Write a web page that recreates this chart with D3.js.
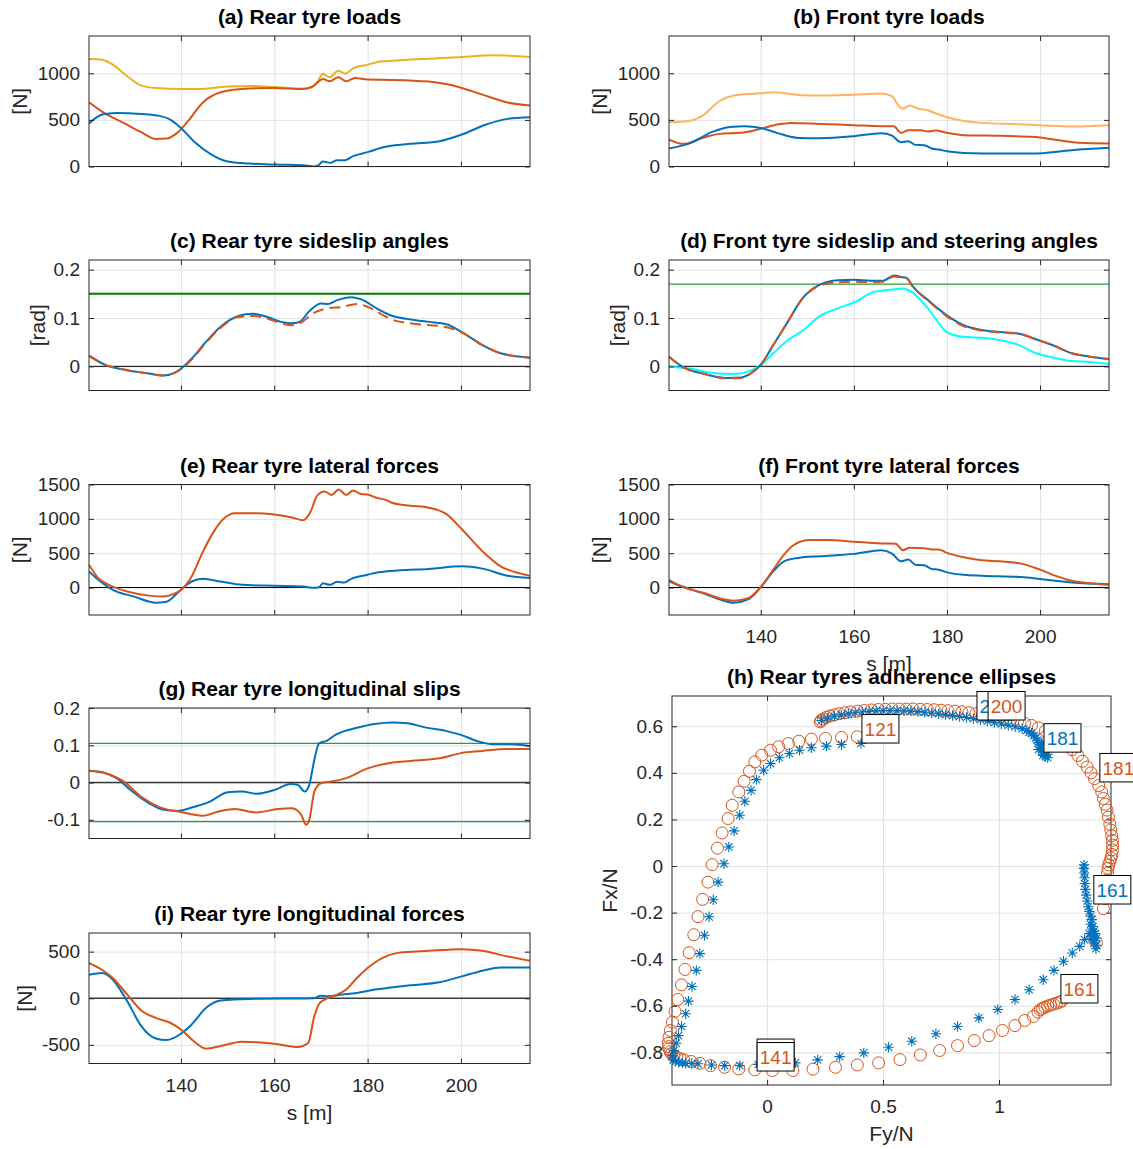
<!DOCTYPE html>
<html>
<head>
<meta charset="utf-8">
<script src="https://cdn.jsdelivr.net/npm/d3@7"></script>
<style>
  body { margin: 0; background: #fff; }
  svg { display: block; font-family: "Liberation Sans", Arial, Helvetica, sans-serif; }
</style>
</head>
<body>
<script>
// ---------- data: [s (m), value] ----------
const rearLoadLeft = [[120.3,461],[123.1,557],[126.2,575],[131.5,564],[135.4,543],[137.7,504],[140,414],[143.1,254],[146.2,139],[150,54],[154.6,32],[160,21],[166.2,14],[168.5,0],[169.5,14],[170.4,54],[171.9,39],[173.5,68],[175.2,68],[176.9,111],[180,154],[183.8,211],[189.2,243],[195.4,271],[200.2,343],[205.4,450],[210,511],[214.8,529]];
const rearLoadRight = [[120.3,689],[123.1,589],[127.7,468],[131.5,368],[134.6,296],[136.9,300],[139.2,361],[141.5,486],[144.6,682],[148.5,796],[153.1,832],[160,843],[166.2,832],[168,853],[169.2,900],[170.4,939],[171.9,914],[173.7,957],[175.4,914],[177.3,950],[180,932],[185.4,929],[193.1,911],[200.2,843],[204.6,771],[210,686],[214.8,654]];
const rearLoadSum = [[120.3,1153],[123.1,1146],[125.4,1093],[128.5,968],[131.5,868],[135.4,839],[140,832],[143.8,832],[150,857],[154.6,864],[160,853],[166.2,836],[168,850],[169.2,900],[170.4,996],[171.9,957],[173.7,1028],[175.2,996],[176.9,1053],[180,1093],[183.1,1128],[185.4,1135],[188.5,1146],[193.1,1157],[200.2,1175],[206.9,1193],[214.8,1175]];

const frontLoadLeft = [[120.3,193],[125,254],[129.6,371],[133.4,425],[136.5,432],[140,414],[143.5,361],[148.1,307],[152.7,304],[160,325],[165.9,357],[168.2,332],[170.1,261],[171.7,271],[173.2,232],[175.1,229],[176.7,193],[178.2,182],[180,164],[183.6,146],[191.3,139],[198.3,139],[206.8,175],[214.8,200]];
const frontLoadRight = [[120.3,289],[123.4,243],[128,314],[131.1,350],[135.8,361],[140,404],[143.5,450],[146.6,468],[152.7,457],[160,443],[165.9,432],[168.6,432],[170.1,361],[171.7,389],[174.4,389],[175.9,375],[177.5,386],[180,361],[183.6,336],[191.3,329],[198.3,318],[202.9,289],[208.3,254],[214.8,246]];
const frontLoadSum = [[120.3,475],[124.2,486],[127.3,539],[131.1,700],[134.2,761],[140,786],[142.7,796],[148.9,764],[152.7,761],[160,771],[165.9,782],[168.2,754],[169.7,646],[170.5,621],[172,654],[174,618],[175.9,604],[177.5,571],[180,529],[183.6,489],[187.5,468],[195.2,454],[199.9,443],[206.8,429],[214.8,443]];

const rearSlipLeft = [[120.3,0.022],[123.8,0.003],[128.5,-0.008],[133.1,-0.015],[136.2,-0.019],[138.5,-0.014],[140,-0.005],[142.3,0.016],[145.4,0.051],[148.5,0.082],[152.3,0.104],[155.4,0.109],[158.5,0.102],[161.5,0.092],[163.8,0.089],[165.4,0.092],[167.7,0.116],[170,0.130],[171.5,0.129],[173.5,0.137],[176.5,0.143],[178.5,0.139],[182.3,0.118],[185.4,0.104],[189.2,0.097],[193.1,0.092],[196.9,0.087],[200.2,0.071],[204.6,0.044],[208.5,0.027],[214.8,0.018]];
const rearSlipRight = [[120.3,0.022],[123.8,0.003],[128.5,-0.008],[133.1,-0.015],[136.2,-0.019],[138.5,-0.014],[140,-0.006],[142.3,0.014],[145.4,0.049],[148.5,0.080],[152.3,0.102],[155.4,0.104],[158.5,0.099],[161.5,0.089],[163.8,0.085],[166,0.092],[168.2,0.109],[171.5,0.120],[174.6,0.123],[177.7,0.129],[180,0.123],[183.1,0.107],[185.4,0.096],[189.2,0.089],[196.9,0.081],[200.2,0.070],[204.6,0.044],[208.5,0.027],[214.8,0.018]];
const rearSlipLimit = 0.15;

const frontSlipLeft = [[120.3,0.020],[123.4,-0.002],[128,-0.016],[132.7,-0.024],[135.8,-0.023],[138.1,-0.013],[140,0.003],[142.7,0.044],[145.8,0.092],[148.9,0.140],[152.7,0.169],[156.6,0.178],[160,0.179],[163.6,0.177],[166.3,0.177],[168.6,0.188],[170.1,0.185],[171.3,0.183],[172.8,0.164],[175.9,0.137],[179.9,0.106],[183.6,0.085],[187.5,0.075],[191.4,0.071],[195.2,0.068],[199.1,0.056],[202.9,0.043],[206.8,0.027],[210.7,0.020],[214.8,0.015]];
const frontSlipRight = [[120.3,0.020],[123.4,-0.002],[128,-0.016],[132.7,-0.025],[135.8,-0.024],[138.1,-0.013],[140,0.003],[142.7,0.044],[145.8,0.092],[148.9,0.139],[152.7,0.167],[156.6,0.174],[160,0.175],[163.6,0.174],[166.3,0.175],[168.6,0.186],[170.1,0.184],[171.3,0.182],[172.8,0.163],[175.9,0.136],[179.9,0.104],[183.6,0.083],[187.5,0.074],[191.4,0.070],[195.2,0.068],[199.1,0.056],[202.9,0.043],[206.8,0.027],[210.7,0.020],[214.8,0.015]];
const frontSteer = [[120.3,-0.001],[125,-0.005],[129.6,-0.014],[134.2,-0.016],[137.3,-0.011],[140,0.003],[142.7,0.027],[145.8,0.054],[148.9,0.073],[152.7,0.104],[156.6,0.120],[160,0.132],[164.3,0.154],[168.2,0.159],[170.5,0.161],[172.8,0.151],[175.9,0.120],[180,0.071],[183.6,0.061],[187.5,0.059],[191.4,0.054],[195.2,0.045],[199.1,0.027],[202.9,0.018],[206.8,0.011],[210.7,0.009],[214.8,0.005]];
const frontSlipLimit = 0.17;

const rearLatLeft = [[120.3,235],[122.3,113],[125.4,-34],[130,-132],[134.6,-221],[136.9,-206],[139.2,-83],[140.8,15],[142.3,88],[144.6,127],[148.5,88],[153.1,39],[160,25],[166.2,15],[168.5,-5],[169.6,5],[170.4,64],[171.9,39],[173.5,83],[175,74],[176.5,127],[180,186],[182.3,221],[186.9,250],[193.1,270],[200.2,309],[204.6,275],[210,172],[214.8,137]];
const rearLatRight = [[120.3,333],[122.3,137],[124.6,39],[128.5,-59],[133.1,-118],[136.2,-132],[138.5,-93],[140,-34],[142.3,162],[144.6,505],[146.9,799],[149.2,1005],[151.5,1083],[156.2,1083],[160,1064],[163.8,1020],[166.2,980],[167.7,1093],[169.2,1338],[170.8,1397],[172.3,1348],[173.8,1426],[175.4,1348],[176.9,1412],[178.5,1363],[180,1353],[182.3,1299],[183.8,1279],[185.4,1230],[189.2,1191],[193.1,1162],[196.9,1069],[200.2,848],[204.6,529],[208.5,309],[212.3,211],[214.8,172]];

const frontLatLeft = [[120.3,88],[122.7,25],[128,-93],[131.1,-172],[134.2,-221],[137.3,-172],[140,5],[142.7,235],[145,382],[148.1,431],[152.7,456],[160,490],[165.9,544],[168.2,495],[170.1,382],[171.7,407],[173.2,333],[175.1,323],[176.7,270],[178.2,260],[180,221],[183.6,186],[187.5,172],[196,152],[200,123],[206.8,74],[214.8,49]];
const frontLatRight = [[120.3,113],[122.7,25],[128,-83],[131.1,-157],[134.2,-191],[137.3,-157],[140,5],[142.7,260],[145,480],[147.3,627],[150.4,691],[154.3,691],[160,667],[165.9,642],[169,637],[170.5,544],[172,578],[175.1,573],[176.7,554],[178.2,554],[180,505],[183.6,441],[187.5,397],[191.4,382],[196,348],[200,260],[203.7,162],[206.8,98],[210.7,64],[214.8,39]];

const rearLongSlipLeft = [[120.3,0.032],[123.1,0.028],[126.2,0.012],[129.2,-0.020],[133.1,-0.055],[136.2,-0.073],[139.2,-0.076],[142.3,-0.067],[146.2,-0.051],[150,-0.026],[153.1,-0.024],[156.2,-0.030],[160,-0.020],[163.5,-0.004],[165,-0.006],[166.5,-0.024],[167.5,-0.006],[168.5,0.056],[169.6,0.105],[171.2,0.112],[173.1,0.128],[175,0.138],[177.7,0.147],[181.5,0.157],[185.4,0.161],[188.5,0.159],[192.3,0.148],[196.9,0.138],[200,0.128],[203.8,0.110],[206.9,0.103],[210.8,0.103],[214.8,0.098]];
const rearLongSlipRight = [[120.3,0.032],[123.8,0.025],[127.7,0.003],[131.5,-0.038],[135.4,-0.066],[140,-0.079],[144.6,-0.089],[148.5,-0.076],[151.5,-0.071],[156.2,-0.080],[160.8,-0.071],[163.8,-0.069],[165.8,-0.087],[166.8,-0.113],[167.5,-0.100],[168.6,-0.024],[170,-0.002],[172.3,0.003],[175.4,0.012],[180,0.038],[185.4,0.054],[189.2,0.058],[195.4,0.065],[200,0.079],[204.6,0.085],[210,0.090],[214.8,0.090]];
const longSlipLimits = [0.105, -0.105];

const rearLongLeft = [[120.3,253],[123.1,270],[125.4,199],[128.5,-32],[131.5,-299],[134.6,-431],[136.9,-448],[140,-381],[142.3,-281],[145.4,-103],[148.5,-25],[154.6,-7],[162.3,-4],[168.5,0],[170,28],[171.5,21],[174.6,39],[177.7,57],[181.5,93],[185.4,117],[189.2,139],[195.4,171],[200.2,235],[204.6,295],[208.5,331],[214.8,331]];
const rearLongRight = [[120.3,377],[123.1,306],[125.4,217],[128.5,39],[131.5,-132],[134.6,-210],[137.7,-263],[140,-335],[142.7,-459],[145.4,-541],[148.5,-512],[153.1,-466],[160,-488],[165,-523],[167.3,-477],[168.5,-210],[169.6,-61],[170.8,-14],[173.1,32],[175.4,93],[177.7,217],[180,324],[183.1,431],[186.2,484],[193.1,509],[200.2,527],[204.6,509],[210,448],[214.8,402]];

// adherence ellipse samples: [Fy/N, Fx/N]
const ellipseRight = [[0.389,0.555],[0.321,0.552],[0.252,0.548],[0.191,0.545],[0.137,0.536],[0.092,0.526],[0.050,0.512],[0.015,0.497],[-0.023,0.476],[-0.053,0.447],[-0.076,0.407],[-0.099,0.364],[-0.122,0.318],[-0.150,0.261],[-0.168,0.204],[-0.194,0.142],[-0.214,0.077],[-0.237,0.006],[-0.255,-0.069],[-0.278,-0.143],[-0.298,-0.217],[-0.316,-0.295],[-0.336,-0.372],[-0.354,-0.444],[-0.369,-0.510],[-0.385,-0.573],[-0.397,-0.624],[-0.408,-0.670],[-0.417,-0.706],[-0.423,-0.735],[-0.426,-0.761],[-0.425,-0.775],[-0.423,-0.785],[-0.418,-0.797],[-0.412,-0.806],[-0.402,-0.815],[-0.389,-0.821],[-0.375,-0.827],[-0.359,-0.832],[-0.328,-0.839],[-0.290,-0.847],[-0.244,-0.857],[-0.183,-0.864],[-0.122,-0.871],[-0.053,-0.875],[0.023,-0.878],[0.111,-0.878],[0.198,-0.872],[0.295,-0.864],[0.389,-0.854],[0.481,-0.845],[0.573,-0.831],[0.661,-0.811],[0.744,-0.792],[0.821,-0.771],[0.893,-0.749],[0.957,-0.728],[1.015,-0.706],[1.069,-0.685],[1.111,-0.663],[1.148,-0.646],[1.168,-0.627],[1.178,-0.617],[1.188,-0.611],[1.198,-0.606],[1.210,-0.601],[1.222,-0.597],[1.235,-0.593],[1.248,-0.589],[1.260,-0.585],[1.270,-0.580],[1.420,-0.329],[1.450,-0.183],[1.458,-0.140],[1.463,-0.100],[1.466,-0.060],[1.468,-0.030],[1.470,-0.010],[1.473,0.005],[1.478,0.020],[1.483,0.035],[1.487,0.050],[1.489,0.070],[1.490,0.090],[1.489,0.110],[1.486,0.130],[1.482,0.155],[1.478,0.180],[1.472,0.210],[1.466,0.240],[1.458,0.265],[1.450,0.290],[1.443,0.318],[1.430,0.345],[1.412,0.375],[1.397,0.400],[1.380,0.425],[1.360,0.450],[1.340,0.475],[1.315,0.500],[1.290,0.523],[1.260,0.545],[1.230,0.565],[1.200,0.580],[1.170,0.593],[1.140,0.604],[1.110,0.613],[1.080,0.621],[1.050,0.628],[1.020,0.634],[0.990,0.640],[0.960,0.645],[0.930,0.650],[0.900,0.654],[0.870,0.658],[0.840,0.662],[0.810,0.665],[0.780,0.667],[0.750,0.669],[0.720,0.671],[0.690,0.672],[0.660,0.673],[0.630,0.674],[0.600,0.674],[0.570,0.674],[0.540,0.674],[0.510,0.673],[0.480,0.672],[0.450,0.670],[0.420,0.668],[0.390,0.665],[0.360,0.662],[0.335,0.658],[0.310,0.654],[0.290,0.649],[0.270,0.644],[0.255,0.638],[0.242,0.631],[0.233,0.625],[0.229,0.619]];
const ellipseLeft = [[0.405,0.526],[0.321,0.522],[0.256,0.515],[0.191,0.508],[0.140,0.497],[0.096,0.483],[0.053,0.465],[0.015,0.440],[-0.015,0.411],[-0.046,0.371],[-0.069,0.325],[-0.096,0.278],[-0.118,0.218],[-0.142,0.151],[-0.165,0.082],[-0.186,0.010],[-0.211,-0.069],[-0.232,-0.145],[-0.250,-0.218],[-0.270,-0.297],[-0.290,-0.376],[-0.305,-0.448],[-0.324,-0.517],[-0.339,-0.580],[-0.351,-0.634],[-0.369,-0.689],[-0.382,-0.728],[-0.392,-0.761],[-0.402,-0.792],[-0.408,-0.814],[-0.405,-0.832],[-0.395,-0.838],[-0.382,-0.842],[-0.365,-0.845],[-0.351,-0.847],[-0.325,-0.848],[-0.298,-0.849],[-0.240,-0.854],[-0.183,-0.857],[-0.118,-0.857],[-0.038,-0.852],[0.046,-0.849],[0.122,-0.845],[0.218,-0.832],[0.313,-0.818],[0.417,-0.802],[0.524,-0.778],[0.624,-0.752],[0.728,-0.720],[0.821,-0.689],[0.913,-0.652],[0.995,-0.616],[1.069,-0.573],[1.130,-0.531],[1.191,-0.488],[1.237,-0.448],[1.278,-0.409],[1.316,-0.373],[1.348,-0.345],[1.369,-0.316],[1.389,-0.290],[1.400,-0.270],[1.405,-0.300],[1.415,-0.320],[1.420,-0.340],[1.418,-0.355],[1.410,-0.330],[1.400,-0.310],[1.395,-0.250],[1.400,-0.230],[1.410,-0.280],[1.420,-0.310],[1.415,-0.290],[1.405,-0.260],[1.395,-0.215],[1.390,-0.195],[1.385,-0.175],[1.380,-0.150],[1.376,-0.125],[1.373,-0.100],[1.370,-0.075],[1.369,-0.050],[1.368,-0.030],[1.366,-0.010],[1.367,0.005],[1.210,0.465],[1.200,0.470],[1.195,0.480],[1.190,0.490],[1.185,0.500],[1.180,0.510],[1.175,0.520],[1.170,0.530],[1.165,0.540],[1.160,0.550],[1.150,0.560],[1.140,0.570],[1.130,0.575],[1.190,0.475],[1.200,0.500],[1.210,0.480],[1.185,0.530],[1.170,0.500],[1.120,0.582],[1.100,0.590],[1.070,0.598],[1.040,0.604],[1.010,0.610],[0.980,0.616],[0.950,0.622],[0.920,0.628],[0.890,0.633],[0.860,0.638],[0.830,0.642],[0.800,0.646],[0.770,0.650],[0.740,0.654],[0.710,0.657],[0.680,0.660],[0.650,0.663],[0.620,0.665],[0.590,0.666],[0.560,0.667],[0.530,0.667],[0.500,0.667],[0.470,0.666],[0.440,0.664],[0.410,0.661],[0.380,0.658],[0.350,0.654],[0.320,0.649],[0.290,0.643],[0.260,0.635],[0.235,0.625]];

// data tips: [label, Fy/N, Fx/N, stacked]
const tipsLeft = [["200",0.905,0.627,false],["181",1.194,0.489,false],["161",1.409,-0.163,false]];
const tipsRight = [["121",0.409,0.528,false],["200",0.953,0.627,false],["181",1.435,0.361,false],["161",1.267,-0.588,false],["141",-0.043,-0.880,true]];

// ticks
const sTicks = [140,160,180,200];
const sDomain = [120.3, 214.8];
const loadTicks = [0,500,1000];
const angleTicks = [0,0.1,0.2];
const latTicks = [0,500,1000,1500];
const longSlipTicks = [-0.1,0,0.1,0.2];
const longForceTicks = [-500,0,500];
const fyTicks = [0,0.5,1];
const fxTicks = [-0.8,-0.6,-0.4,-0.2,0,0.2,0.4,0.6];

// ---------- styling ----------
const BLUE = "#0072BD", ORANGE = "#D95319", YELLOW = "#EDB120", LIGHTORANGE = "#FFB25F", CYAN = "#00FFFF";
const GREEN_DARK = "#008000", GREEN = "#2E9E2E";
const AXIS = "#262626", GRID = "#e2e2e2";
const TICK_FONT = 19, TITLE_FONT = 21, LABEL_FONT = 21;
const LINE_W = 2;

const W = 1133, H = 1149;
const svg = d3.select("body").append("svg").attr("width", W).attr("height", H);

const fmt = d => String(d);
const COLS = { L: [89, 530], R: [669, 1109] };
const ROWS = [36, 260, 484.5, 708, 933];
const PH = 130.5;

function axesFrame(g, x, y, p) {
  const w = p.right - p.left, h = p.bottom - p.top;
  const clean = s => { s.select(".domain").remove(); s.attr("font-family", null).attr("font-size", TICK_FONT); s.selectAll("line").attr("stroke", AXIS); s.selectAll("text").attr("fill", AXIS); };
  g.append("rect").attr("x", p.left).attr("y", p.top).attr("width", w).attr("height", h)
    .attr("fill", "none").attr("stroke", AXIS).attr("stroke-width", 1);
  g.append("g").attr("transform", `translate(${p.left},0)`)
    .call(d3.axisLeft(y).tickValues(p.yTicks).tickSize(-5).tickPadding(9).tickFormat(fmt)).call(clean);
  g.append("g").attr("transform", `translate(${p.right},0)`)
    .call(d3.axisRight(y).tickValues(p.yTicks).tickSize(-5).tickFormat("")).call(clean);
  g.append("g").attr("transform", `translate(0,${p.bottom})`)
    .call(d3.axisBottom(x).tickValues(p.xTicks).tickSize(-5).tickPadding(15).tickFormat(p.xLabels ? fmt : "")).call(clean);
  g.append("g").attr("transform", `translate(0,${p.top})`)
    .call(d3.axisTop(x).tickValues(p.xTicks).tickSize(-5).tickFormat("")).call(clean);
}

function grid(g, x, y, p) {
  const w = p.right - p.left, h = p.bottom - p.top;
  const clean = s => { s.select(".domain").remove(); s.selectAll("line").attr("stroke", GRID).attr("stroke-width", 1); };
  g.append("g").attr("transform", `translate(0,${p.bottom})`)
    .call(d3.axisBottom(x).tickValues(p.xTicks).tickSize(-h).tickFormat("")).call(clean);
  g.append("g").attr("transform", `translate(${p.left},0)`)
    .call(d3.axisLeft(y).tickValues(p.yTicks).tickSize(-w).tickFormat("")).call(clean);
}

function texts(g, p) {
  const cx = (p.left + p.right) / 2;
  g.append("text").attr("x", cx).attr("y", p.top - 12).attr("text-anchor", "middle")
    .attr("font-size", TITLE_FONT).attr("font-weight", "bold").attr("fill", "#000").text(p.title);
  if (p.yLabel) {
    g.append("text").attr("transform", `translate(${p.yLabelX},${(p.top + p.bottom) / 2}) rotate(-90)`)
      .attr("text-anchor", "middle").attr("dy", "0.35em").attr("font-size", LABEL_FONT).attr("fill", AXIS).text(p.yLabel);
  }
  if (p.xLabel) {
    g.append("text").attr("x", cx).attr("y", p.bottom + 56).attr("text-anchor", "middle")
      .attr("font-size", LABEL_FONT).attr("fill", AXIS).text(p.xLabel);
  }
}

let clipN = 0;
function linePanel(p) {
  p.left = COLS[p.col][0]; p.right = COLS[p.col][1];
  p.top = ROWS[p.row]; p.bottom = p.top + PH;
  p.xTicks = sTicks;
  const g = svg.append("g");
  const x = d3.scaleLinear().domain(sDomain).range([p.left, p.right]);
  const y = d3.scaleLinear().domain(p.yDomain).range([p.bottom, p.top]);
  grid(g, x, y, p);
  const id = "clip" + (clipN++);
  svg.append("clipPath").attr("id", id).append("rect")
    .attr("x", p.left).attr("y", p.top).attr("width", p.right - p.left).attr("height", p.bottom - p.top);
  const plot = g.append("g").attr("clip-path", `url(#${id})`);
  (p.refs || []).forEach(r => {
    plot.append("line").attr("x1", x(sDomain[0])).attr("x2", x(sDomain[1]))
      .attr("y1", y(r.v)).attr("y2", y(r.v)).attr("stroke", r.color).attr("stroke-width", r.width);
  });
  const line = d3.line().x(d => x(d[0])).y(d => y(d[1])).curve(d3.curveMonotoneX);
  p.series.forEach(s => {
    plot.append("path").datum(s.data).attr("d", line).attr("fill", "none")
      .attr("stroke", s.color).attr("stroke-width", s.width || LINE_W)
      .attr("stroke-dasharray", s.dash || null).attr("stroke-linejoin", "round");
  });
  axesFrame(g, x, y, p);
  texts(g, p);
}

// (a) rear loads
linePanel({ col: "L", row: 0, yDomain: [0, 1400], yTicks: loadTicks, title: "(a) Rear tyre loads", yLabel: "[N]", yLabelX: 20,
  series: [{ data: rearLoadSum, color: YELLOW }, { data: rearLoadRight, color: ORANGE }, { data: rearLoadLeft, color: BLUE }] });
// (b) front loads
linePanel({ col: "R", row: 0, yDomain: [0, 1400], yTicks: loadTicks, title: "(b) Front tyre loads", yLabel: "[N]", yLabelX: 600,
  series: [{ data: frontLoadSum, color: LIGHTORANGE }, { data: frontLoadRight, color: ORANGE }, { data: frontLoadLeft, color: BLUE }] });
// (c) rear sideslip
linePanel({ col: "L", row: 1, yDomain: [-0.05, 0.22], yTicks: angleTicks, title: "(c) Rear tyre sideslip angles", yLabel: "[rad]", yLabelX: 38,
  refs: [{ v: 0, color: "#000", width: 1 }, { v: rearSlipLimit, color: GREEN_DARK, width: 2 }],
  series: [{ data: rearSlipLeft, color: BLUE }, { data: rearSlipRight, color: ORANGE, dash: "11,6", width: 2 }] });
// (d) front sideslip and steering
linePanel({ col: "R", row: 1, yDomain: [-0.05, 0.22], yTicks: angleTicks, title: "(d) Front tyre sideslip and steering angles", yLabel: "[rad]", yLabelX: 618,
  refs: [{ v: 0, color: "#000", width: 1 }, { v: frontSlipLimit, color: GREEN, width: 1.3 }],
  series: [{ data: frontSteer, color: CYAN }, { data: frontSlipLeft, color: BLUE }, { data: frontSlipRight, color: ORANGE, dash: "11,6", width: 2 }] });
// (e) rear lateral forces
linePanel({ col: "L", row: 2, yDomain: [-400, 1500], yTicks: latTicks, title: "(e) Rear tyre lateral forces", yLabel: "[N]", yLabelX: 20,
  refs: [{ v: 0, color: "#000", width: 1 }],
  series: [{ data: rearLatLeft, color: BLUE }, { data: rearLatRight, color: ORANGE }] });
// (f) front lateral forces
linePanel({ col: "R", row: 2, yDomain: [-400, 1500], yTicks: latTicks, title: "(f) Front tyre lateral forces", yLabel: "[N]", yLabelX: 600,
  xLabels: true, xLabel: "s [m]",
  refs: [{ v: 0, color: "#000", width: 1 }],
  series: [{ data: frontLatLeft, color: BLUE }, { data: frontLatRight, color: ORANGE }] });
// (g) rear longitudinal slips
linePanel({ col: "L", row: 3, yDomain: [-0.15, 0.2], yTicks: longSlipTicks, title: "(g) Rear tyre longitudinal slips",
  refs: [{ v: 0, color: "#3a3a3a", width: 1.6 }, { v: longSlipLimits[0], color: GREEN, width: 1.3 }, { v: longSlipLimits[1], color: GREEN, width: 1.3 }],
  series: [{ data: rearLongSlipLeft, color: BLUE }, { data: rearLongSlipRight, color: ORANGE }] });
// (i) rear longitudinal forces
linePanel({ col: "L", row: 4, yDomain: [-700, 700], yTicks: longForceTicks, title: "(i) Rear tyre longitudinal forces", yLabel: "[N]", yLabelX: 25,
  xLabels: true, xLabel: "s [m]",
  refs: [{ v: 0, color: "#3a3a3a", width: 1.6 }],
  series: [{ data: rearLongLeft, color: BLUE }, { data: rearLongRight, color: ORANGE }] });

// (h) adherence ellipses
(function () {
  const p = { left: 672, right: 1111, top: 696, bottom: 1085, xTicks: fyTicks, yTicks: fxTicks, xLabels: true,
    title: "(h) Rear tyres adherence ellipses", yLabel: "Fx/N", yLabelX: 610, xLabel: "Fy/N" };
  const g = svg.append("g");
  const x = d3.scaleLinear().domain([-0.41, 1.483]).range([p.left, p.right]);
  const y = d3.scaleLinear().domain([-0.94, 0.73]).range([p.bottom, p.top]);
  grid(g, x, y, p);
  axesFrame(g, x, y, p);
  texts(g, p);
  g.append("g").selectAll("circle").data(ellipseRight).join("circle")
    .attr("cx", d => x(d[0])).attr("cy", d => y(d[1])).attr("r", 6)
    .attr("fill", "none").attr("stroke", ORANGE).attr("stroke-width", 1);
  const star = "M-5.2,0H5.2M0,-5.2V5.2M-3.7,-3.7L3.7,3.7M-3.7,3.7L3.7,-3.7";
  g.append("g").selectAll("path").data(ellipseLeft).join("path")
    .attr("transform", d => `translate(${x(d[0])},${y(d[1])})`).attr("d", star)
    .attr("fill", "none").attr("stroke", BLUE).attr("stroke-width", 1.1);
  const tip = (list, color) => {
    list.forEach(t => {
      const px = x(t[1]), py = y(t[2]);
      const tg = g.append("g");
      if (t[3]) {
        tg.append("rect").attr("x", px).attr("y", py - 32).attr("width", 37).attr("height", 28)
          .attr("fill", "#fff").attr("stroke", "#000").attr("stroke-width", 1);
      }
      tg.append("rect").attr("x", px).attr("y", py - 28.5).attr("width", 37).attr("height", 28.5)
        .attr("fill", "#fff").attr("stroke", "#000").attr("stroke-width", 1);
      tg.append("text").attr("x", px + 18.5).attr("y", py - 14).attr("dy", "0.35em").attr("text-anchor", "middle")
        .attr("font-size", 19).attr("fill", color).text(t[0]);
    });
  };
  tip(tipsLeft, BLUE);
  tip(tipsRight, ORANGE);
})();
</script>
</body>
</html>
